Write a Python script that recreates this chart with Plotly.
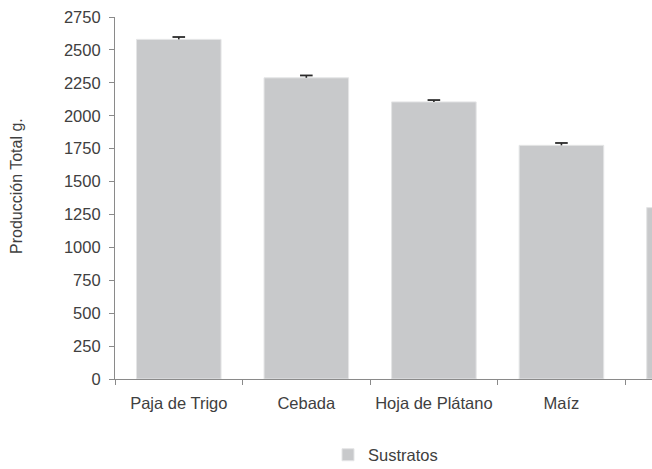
import plotly.graph_objects as go

categories = ["Paja de Trigo", "Cebada", "Hoja de Plátano", "Maíz", "Otro"]
values = [2580, 2288, 2105, 1775, 1302]
errors = [18, 18, 14, 18, 15]
series_name = "Sustratos"
y_title = "Producción Total g."

FONT = "Liberation Sans, Arial, sans-serif"
TXT = "#404040"
AX = "#8a8a8a"

tops = [v + e for v, e in zip(values, errors)]

fig = go.Figure()
fig.add_trace(go.Bar(
    x=categories, y=values, name=series_name,
    marker=dict(color="#c8c9cb", line=dict(color="#e4e5e6", width=1)),
    showlegend=True, hoverinfo="skip",
))
# error bars: upper only, drawn as a stem down to the bar top with a cap on top
fig.add_trace(go.Scatter(
    x=categories, y=tops, mode="markers", showlegend=False, hoverinfo="skip",
    marker=dict(symbol="line-ew", size=9, line=dict(color="#2b2b2b", width=1.8)),
    error_y=dict(type="data", symmetric=False, array=[0] * len(errors),
                 arrayminus=errors, color="#2b2b2b", thickness=1.6, width=0),
))

W, H = 652, 469
L, R, T, B = 115, 0, 17, 90
pw = W - L - R
ph = H - T - B

fig.update_layout(
    width=W, height=H,
    margin=dict(l=L, r=R, t=T, b=B),
    paper_bgcolor="white", plot_bgcolor="white",
    font=dict(family=FONT, color=TXT, size=16),
    bargap=0.337,
    showlegend=True,
    legend=dict(orientation="h", xanchor="left", yanchor="middle",
                xref="paper", yref="container",
                x=(328 - L) / pw, y=(H - 455) / H,
                font=dict(size=16.5, color=TXT), bgcolor="rgba(0,0,0,0)"),
    xaxis=dict(type="category", range=[-0.5, 3.71], showline=True,
               linecolor=AX, linewidth=1.2, ticks="outside", ticklen=5,
               tickcolor=AX, tickson="boundaries", showgrid=False,
               tickfont=dict(size=16.5, color=TXT), ticklabelstandoff=9,
               fixedrange=True, automargin=False),
    yaxis=dict(range=[0, 2750], dtick=250, tick0=0, showline=True,
               linecolor=AX, linewidth=1.2, ticks="outside", ticklen=5,
               tickcolor=AX, showgrid=False, zeroline=False,
               tickfont=dict(size=16.5, color=TXT), ticklabelstandoff=5,
               fixedrange=True, automargin=False),
    annotations=[dict(text=y_title, textangle=-90, xref="paper", yref="paper",
                      x=(16 - L) / pw, y=(379 - 186) / ph, xanchor="center",
                      yanchor="middle", showarrow=False,
                      font=dict(size=16, color=TXT, family=FONT))],
)

fig.write_html("out.html", config={"displayModeBar": False},
               post_script="document.body.style.margin='0';"
                           "document.body.style.overflow='hidden';")
